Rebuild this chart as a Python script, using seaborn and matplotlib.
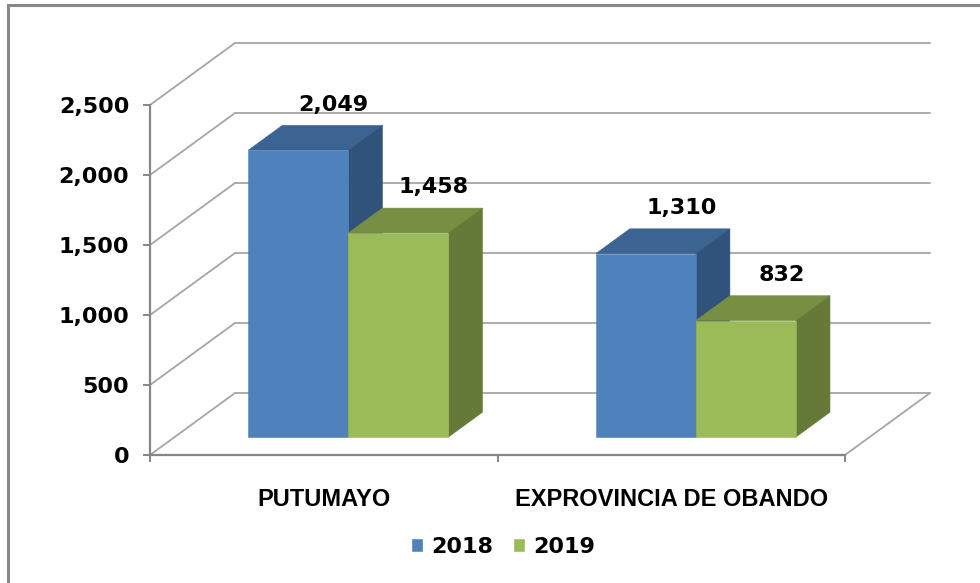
import numpy as np
import pandas as pd
import matplotlib
matplotlib.use("Agg")
import matplotlib.pyplot as plt
import seaborn as sns
from matplotlib.patches import Polygon, Rectangle
from matplotlib.ticker import FuncFormatter

# Chart data
regions = ["PUTUMAYO", "EXPROVINCIA DE OBANDO"]
years = ["2018", "2019"]
values_2018 = [2049, 1310]
values_2019 = [1458, 832]
y_ticks = [0, 500, 1000, 1500, 2000, 2500]

df = pd.DataFrame({
    "region": regions * 2,
    "year": [years[0]] * 2 + [years[1]] * 2,
    "value": values_2018 + values_2019,
})

# Colours: front, top, side for each series
front_cols = ["#4F81BD", "#9BBB59"]
top_cols = ["#3C6493", "#768F43"]
side_cols = ["#31527A", "#657A38"]
grid_col = "#A6A6A6"
axis_col = "#868686"

sns.set_style("white")
plt.rcParams["font.family"] = ["DejaVu Sans"]
plt.rcParams["text.color"] = "black"
plt.rcParams["xtick.color"] = "black"
plt.rcParams["ytick.color"] = "black"

fig = plt.figure(figsize=(9.8, 5.83), dpi=100)
ax = fig.add_axes([150 / 980, 128 / 583, 695 / 980, 350 / 583])

sns.barplot(data=df, x="region", y="value", hue="year", palette=front_cols,
            width=0.576, saturation=1, ax=ax, zorder=3)

ax.set_xlim(-0.5, 1.5)
ax.set_ylim(0, 2500)

# 3D depth vector (full floor depth) in data units: 85 px right, 62 px up
px_x = 695 / 2.0
px_y = 350 / 2500.0
depth_x = 85 / px_x
depth_y = 62 / px_y
front_frac = 0.29   # where bar front faces sit in depth
bar_frac = 0.40     # bar thickness in depth

# Back wall, left wall and floor lines
for v in y_ticks:
    bx, by = -0.5 + depth_x, v + depth_y
    ax.plot([-0.5, bx], [v, by], color=grid_col, lw=1.3, zorder=0, clip_on=False)
    ax.plot([bx, 1.5 + depth_x], [by, by], color=grid_col, lw=1.3, zorder=0, clip_on=False)
ax.plot([1.5, 1.5 + depth_x], [0, depth_y], color=grid_col, lw=1.3, zorder=0, clip_on=False)

# Turn the flat bars into boxes
ox, oy = front_frac * depth_x, front_frac * depth_y
bdx, bdy = bar_frac * depth_x, bar_frac * depth_y
for i, cont in enumerate(ax.containers):
    for patch in cont:
        x0, h, w = patch.get_x(), patch.get_height(), patch.get_width()
        patch.set_xy((x0 + ox, oy))
        patch.set_edgecolor(front_cols[i])
        patch.set_linewidth(0.4)
        x0 += ox
        x1 = x0 + w
        y1 = oy + h
        z = 3 + i
        patch.set_zorder(z + 0.2)
        top = Polygon([(x0, y1), (x1, y1), (x1 + bdx, y1 + bdy), (x0 + bdx, y1 + bdy)],
                      closed=True, facecolor=top_cols[i], edgecolor=top_cols[i],
                      lw=0.4, zorder=z, clip_on=False)
        side = Polygon([(x1, oy), (x1 + bdx, oy + bdy), (x1 + bdx, y1 + bdy), (x1, y1)],
                       closed=True, facecolor=side_cols[i], edgecolor=side_cols[i],
                       lw=0.4, zorder=z, clip_on=False)
        ax.add_patch(top)
        ax.add_patch(side)
        ax.annotate(f"{h:,.0f}", xy=(x0 + w / 2 + bdx, y1 + bdy),
                    xytext=(1, 15), textcoords="offset points",
                    ha="center", va="center", fontsize=16, fontweight="bold",
                    color="black", annotation_clip=False, zorder=10)

# Axes styling
for s in ["top", "right"]:
    ax.spines[s].set_visible(False)
for s in ["left", "bottom"]:
    ax.spines[s].set_color(axis_col)
    ax.spines[s].set_linewidth(1.6)
    ax.spines[s].set_zorder(1)

ax.set_yticks(y_ticks)
ax.yaxis.set_major_formatter(FuncFormatter(lambda v, p: f"{v:,.0f}"))
ax.tick_params(axis="y", length=5, width=1.4, color=axis_col, labelcolor="black",
               pad=10, labelsize=16, left=True)
for lab in ax.get_yticklabels():
    lab.set_fontweight("bold")

ax.set_xticks([0, 1])
ax.set_xticks([-0.5, 0.5, 1.5], minor=True)
ax.tick_params(axis="x", which="major", length=0, pad=24, labelcolor="black")
ax.tick_params(axis="x", which="minor", length=5, width=1.4, color=axis_col, bottom=True)
ax.set_xticklabels(regions, fontsize=17, fontweight="bold", family="Liberation Sans",
                   color="black")
ax.set_xlabel("")
ax.set_ylabel("")
ax.grid(False)

# Legend at the bottom
handles, labels = ax.get_legend_handles_labels()
ax.get_legend().remove()
leg = fig.legend(handles, labels, loc="center", bbox_to_anchor=(503 / 980, 1 - 547 / 583),
                 ncol=2, frameon=False, prop={"size": 16, "weight": "bold"},
                 handlelength=0.55, handleheight=0.55, handletextpad=0.35,
                 columnspacing=0.9)
for t in leg.get_texts():
    t.set_color("black")

# Outer chart border (cut off at right and bottom)
fig.patches.append(Rectangle((8 / 980, -0.1), 1.2, 1.1 - 5 / 583,
                             transform=fig.transFigure, fill=False,
                             edgecolor="#888888", linewidth=2.2))

fig.savefig("out.png", dpi=100, facecolor="white")
